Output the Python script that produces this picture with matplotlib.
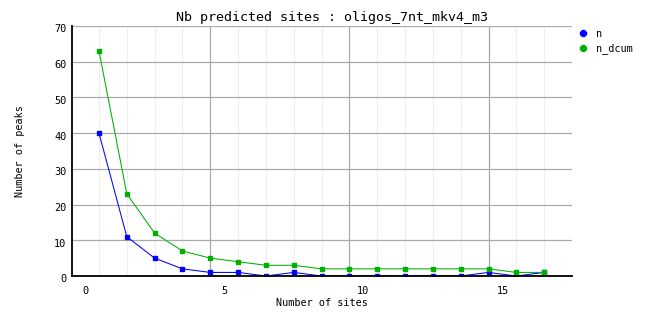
import matplotlib
matplotlib.use("Agg")
import matplotlib.pyplot as plt
import matplotlib.transforms as mtransforms
from matplotlib.lines import Line2D

# data
sites = [0.5, 1.5, 2.5, 3.5, 4.5, 5.5, 6.5, 7.5, 8.5, 9.5, 10.5, 11.5, 12.5, 13.5, 14.5, 15.5, 16.5]
n = [40, 11, 5, 2, 1, 1, 0, 1, 0, 0, 0, 0, 0, 0, 1, 0, 1]
n_dcum = [63, 23, 12, 7, 5, 4, 3, 3, 2, 2, 2, 2, 2, 2, 2, 1, 1]
x_labels = [0, 5, 10, 15]
y_labels = [0, 10, 20, 30, 40, 50, 60, 70]

blue = '#0000ff'
green = '#00b000'

plt.rcParams['font.family'] = ['DejaVu Sans Mono']

fig = plt.figure(figsize=(6.62, 3.28), dpi=100)
ax = fig.add_axes([72 / 662, 52 / 328, 500 / 662, 250 / 328])

# grid: light line at each point, darker every 5th
ax.set_xticks(sites, minor=True)
ax.grid(which='minor', axis='x', color='#eeeeee', lw=0.8)
for xv in sites[4::5]:
    ax.axvline(xv, color='#aaaaaa', lw=0.9, zorder=1)
ax.set_yticks(y_labels)
ax.grid(which='major', axis='y', color='#aaaaaa', lw=0.9)
ax.set_axisbelow(True)

ax.plot(sites, n, color=blue, lw=0.75, marker='s', ms=2.3, mec=blue, mfc=blue, zorder=3)
ax.plot(sites, n_dcum, color=green, lw=0.75, marker='s', ms=2.3, mec=green, mfc=green, zorder=3)

ax.set_xlim(-0.47, 17.5)
ax.set_ylim(0, 70)
ax.set_xticks(x_labels)
ax.tick_params(which='both', length=0, labelsize=7.4, colors='black')
ax.tick_params(axis='y', pad=4)
ax.tick_params(axis='x', pad=7)

shift = mtransforms.ScaledTranslation(0, -0.025, fig.dpi_scale_trans)
for lab in ax.get_yticklabels():
    lab.set_transform(lab.get_transform() + shift)

for side in ['top', 'right']:
    ax.spines[side].set_visible(False)
for side in ['left', 'bottom']:
    ax.spines[side].set_linewidth(1.3)
    ax.spines[side].set_color('black')
    ax.spines[side].set_zorder(4)

ax.set_title('Nb predicted sites : oligos_7nt_mkv4_m3', fontsize=9.6, pad=3.5, x=0.52)
ax.set_xlabel('Number of sites', fontsize=7.3)
ax.xaxis.set_label_coords(0.5, -0.088)
ax.set_ylabel('Number of peaks', fontsize=7.3)
ax.yaxis.set_label_coords(-0.094, 0.5)

handles = [Line2D([], [], color=blue, marker='8', ls='none', ms=4.5),
           Line2D([], [], color=green, marker='8', ls='none', ms=4.5)]
fig.legend(handles, ['n', 'n_dcum'], loc='upper left', bbox_to_anchor=(579 / 662, 1 - 29 / 328),
           frameon=False, fontsize=7.3, handlelength=0.8, handletextpad=0.9,
           labelspacing=0.4, borderaxespad=0, borderpad=0)

fig.savefig('out.png', dpi=100)
